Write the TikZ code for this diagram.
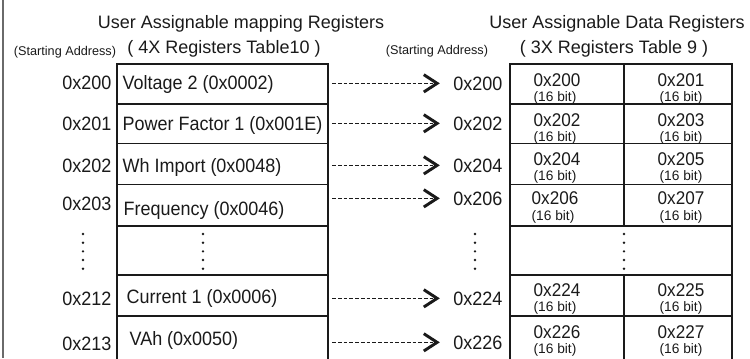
\documentclass[tikz,border=0pt]{standalone}
\usepackage{fontspec}
\setmainfont{Liberation Sans}
\newfontfamily\narrowsans[FakeStretch=0.93]{Liberation Sans}
\usetikzlibrary{arrows.meta}

\definecolor{inkgray}{HTML}{1A1A1A}
\definecolor{edgegray}{HTML}{6A6A6A}

\tikzset{
  mapcell/.style={draw=inkgray,line width=1.4pt,minimum width=158.25pt,inner sep=0pt},
  datacell/.style={draw=inkgray,line width=1.4pt,inner sep=0pt},
  headtext/.style={anchor=base,inner sep=1pt,text=inkgray,font=\fontsize{13.5}{15}\selectfont},
  hinttext/.style={anchor=base,inner sep=1pt,text=inkgray,font=\fontsize{9.5}{11}\selectfont},
  addrtext/.style={anchor=base east,inner sep=1pt,text=inkgray,font=\narrowsans\fontsize{14.5}{16}\selectfont},
  maptext/.style={anchor=base west,inner sep=1pt,text=inkgray,font=\narrowsans\fontsize{14.5}{16}\selectfont},
  regtext/.style={anchor=base,inner sep=1pt,text=inkgray,font=\narrowsans\fontsize{13.8}{15}\selectfont},
  bittext/.style={anchor=base,inner sep=1pt,text=inkgray,font=\fontsize{10.3}{11}\selectfont},
  maplink/.style={draw=inkgray,dash pattern=on 2.8pt off 1.5pt,line width=1.2pt,
    -{Straight Barb[length=10pt,width=13pt,line width=2.2pt]},shorten <=2.5pt,shorten >=9pt},
  dotcol/.style={draw=inkgray,line width=2pt,line cap=round,dash pattern=on 0pt off 6.5pt}
}

\begin{document}
\begin{tikzpicture}[x=0.75pt,y=-0.75pt]
  \clip (0,0) rectangle (750,358);
  \draw[edgegray,line width=1.6pt] (3,0) -- (3,358);

  % headings
  \node[headtext](maphead)at(241, 28){User Assignable mapping Registers};
  \node[headtext](mapsub)at(224, 53){( 4X Registers Table10 )};
  \node[hinttext](mapstart)at(65, 55){(Starting Address)};
  \node[headtext](datahead)at(617, 28){User Assignable Data Registers};
  \node[headtext](datasub)at(614, 53){( 3X Registers Table 9 )};
  \node[hinttext](datastart)at(437, 54){(Starting Address)};

  % mapping registers (4X)
  \node[mapcell,minimum height=30pt](m1)at(222.5, 84){};
  \node[mapcell,minimum height=29.6pt](m2)at(222.5, 123.75){};
  \node[mapcell,minimum height=30.75pt](m3)at(222.5, 164){};
  \node[mapcell,minimum height=31.1pt](m4)at(222.5, 205.25){};
  \node[mapcell,minimum height=36.75pt](m5)at(222.5, 250.5){};
  \node[mapcell,minimum height=30.75pt](m6)at(222.5, 295.5){};
  \node[mapcell,minimum height=34.5pt](m7)at(222.5, 339){};

  \node[addrtext](ma1)at(113, 89){0x200};
  \node[addrtext](ma2)at(113, 130){0x201};
  \node[addrtext](ma3)at(113, 172){0x202};
  \node[addrtext](ma4)at(113, 210){0x203};
  \node[addrtext](ma6)at(113, 305){0x212};
  \node[addrtext](ma7)at(113, 350){0x213};

  \node[maptext](mt1)at(121, 89){Voltage 2 (0x0002)};
  \node[maptext](mt2)at(121, 130){Power Factor 1 (0x001E)};
  \node[maptext](mt3)at(121, 172){Wh Import (0x0048)};
  \node[maptext](mt4)at(122, 215){Frequency (0x0046)};
  \node[maptext](mt6)at(125, 303){Current 1 (0x0006)};
  \node[maptext](mt7)at(128, 345){VAh (0x0050)};

  \draw[dotcol] (83, 234) -- (83, 272);
  \draw[dotcol] (203, 234) -- (203, 272);

  % data registers (3X)
  \node[addrtext](da1)at(504, 90){0x200};
  \node[addrtext](da2)at(504, 130){0x202};
  \node[addrtext](da3)at(504, 172){0x204};
  \node[addrtext](da4)at(504, 205){0x206};
  \node[addrtext](da6)at(504, 305){0x224};
  \node[addrtext](da7)at(504, 349){0x226};

  \node[datacell,minimum width=85.5pt,minimum height=30pt](c11)at(567, 84){};
  \node[datacell,minimum width=81pt,minimum height=30pt](c12)at(678, 84){};
  \node[datacell,minimum width=85.5pt,minimum height=29.6pt](c21)at(567, 123.75){};
  \node[datacell,minimum width=81pt,minimum height=29.6pt](c22)at(678, 123.75){};
  \node[datacell,minimum width=85.5pt,minimum height=30.75pt](c31)at(567, 164){};
  \node[datacell,minimum width=81pt,minimum height=30.75pt](c32)at(678, 164){};
  \node[datacell,minimum width=85.5pt,minimum height=31.1pt](c41)at(567, 205.25){};
  \node[datacell,minimum width=81pt,minimum height=31.1pt](c42)at(678, 205.25){};
  \node[datacell,minimum width=166.5pt,minimum height=36.75pt](c5)at(621, 250.5){};
  \node[datacell,minimum width=85.5pt,minimum height=30.75pt](c61)at(567, 295.5){};
  \node[datacell,minimum width=81pt,minimum height=30.75pt](c62)at(678, 295.5){};
  \node[datacell,minimum width=85.5pt,minimum height=34.5pt](c71)at(567, 339){};
  \node[datacell,minimum width=81pt,minimum height=34.5pt](c72)at(678, 339){};

  \node[regtext](r11)at(557, 86){0x200};
  \node[bittext](b11)at(555, 101.5){(16 bit)};
  \node[regtext](r12)at(681, 86){0x201};
  \node[bittext](b12)at(681, 101.5){(16 bit)};
  \node[regtext](r21)at(557, 126){0x202};
  \node[bittext](b21)at(555, 141){(16 bit)};
  \node[regtext](r22)at(681, 126){0x203};
  \node[bittext](b22)at(681, 141){(16 bit)};
  \node[regtext](r31)at(557, 165){0x204};
  \node[bittext](b31)at(555, 180.5){(16 bit)};
  \node[regtext](r32)at(681, 165){0x205};
  \node[bittext](b32)at(681, 180.5){(16 bit)};
  \node[regtext](r41)at(555, 204){0x206};
  \node[bittext](b41)at(553, 220){(16 bit)};
  \node[regtext](r42)at(681, 204){0x207};
  \node[bittext](b42)at(681, 220){(16 bit)};
  \node[regtext](r61)at(557, 296){0x224};
  \node[bittext](b61)at(555, 311.5){(16 bit)};
  \node[regtext](r62)at(681, 296){0x225};
  \node[bittext](b62)at(681, 311.5){(16 bit)};
  \node[regtext](r71)at(557, 338){0x226};
  \node[bittext](b71)at(555, 353){(16 bit)};
  \node[regtext](r72)at(681, 338){0x227};
  \node[bittext](b72)at(681, 353){(16 bit)};

  \draw[dotcol] (475, 234) -- (475, 272);
  \draw[dotcol] (624, 234) -- (624, 272);

  % mapping links
  \draw[maplink] (m1.east |- da1.west) -- (da1.west);
  \draw[maplink] (m2.east |- da2.west) -- (da2.west);
  \draw[maplink] (m3.east |- da3.west) -- (da3.west);
  \draw[maplink] (m4.east |- da4.west) -- (da4.west);
  \draw[maplink] (m6.east |- da6.west) -- (da6.west);
  \draw[maplink] (m7.east |- da7.west) -- (da7.west);
\end{tikzpicture}
\end{document}
